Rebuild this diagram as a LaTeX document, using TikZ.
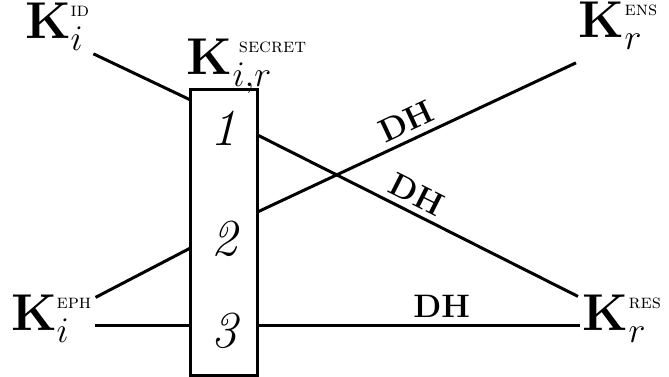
\documentclass[tikz,border=0pt]{standalone}
\usetikzlibrary{calc}
\tikzset{
  keylabel/.style={inner sep=1pt, font=\huge},
  slotbox/.style={draw, line width=1.2pt, minimum width=26.4pt, minimum height=114.4pt, inner sep=0pt},
  slotnum/.style={font=\huge\itshape},
  dhlabel/.style={font=\fontsize{13}{15}\selectfont\bfseries, inner sep=2.5pt},
  wire/.style={line width=1.2pt},
}
\newcommand{\supname}[1]{\raisebox{1.2pt}{\fontsize{8}{9}\selectfont\textsc{#1}}}
\newcommand{\keyname}[2]{$\mathbf{K}_{#1}^{\supname{#2}}$}

\begin{document}
\begin{tikzpicture}[x=0.4pt, y=-0.4pt]
\useasboundingbox (0,0) rectangle (669,376);
% the secret and its three slots
\node[slotbox] (box) at (224,232) {};
\node[slotnum] (s1) at (223,128) {1};
\node[slotnum] (s2) at (224,239) {2};
\node[slotnum] (s3) at (224,331) {3};
\coordinate (p1w) at ($(box.north west)+(0,12)$);
\coordinate (p2w) at ($(box.north west)+(0,161)$);
\coordinate (p3w) at ($(box.north west)+(0,238)$);
\coordinate (p1e) at ($(box.north east)+(0,48)$);
\coordinate (p2e) at ($(box.north east)+(0,124)$);
\coordinate (p3e) at ($(box.north east)+(0,238)$);
% keys
\node[keylabel, anchor=base west] (kid) at (22,38) {\keyname{i}{id}};
\node[keylabel, anchor=base west] (ksec) at (184,74)
  {$\mathbf{K}_{i,r}^{\hspace{2.5pt}\supname{secret}}$};
\node[keylabel, anchor=base west] (kens) at (576,37) {\keyname{r}{ens}};
\node[keylabel, anchor=base west] (keph) at (8,330) {\keyname{i}{eph}};
\node[keylabel, anchor=base west] (kres) at (580,330) {\keyname{r}{res}};
% wires
\draw[wire] (kid.south east) -- (p1w);
\draw[wire] ($(keph.north east)+(0,6)$) -- (p2w);
\draw[wire] (keph.east |- p3w) -- (p3w);
\draw[wire] (p1e) -- node[dhlabel, sloped, above, pos=0.47] {DH} ($(kres.north west)+(-2,5)$);
\draw[wire] (p2e) -- node[dhlabel, sloped, above, pos=0.49] {DH} ($(kens.south west)+(0,10)$);
\draw[wire] (p3e) -- node[dhlabel, above, pos=0.57] {DH} (kres.west |- p3e);
\end{tikzpicture}
\end{document}
